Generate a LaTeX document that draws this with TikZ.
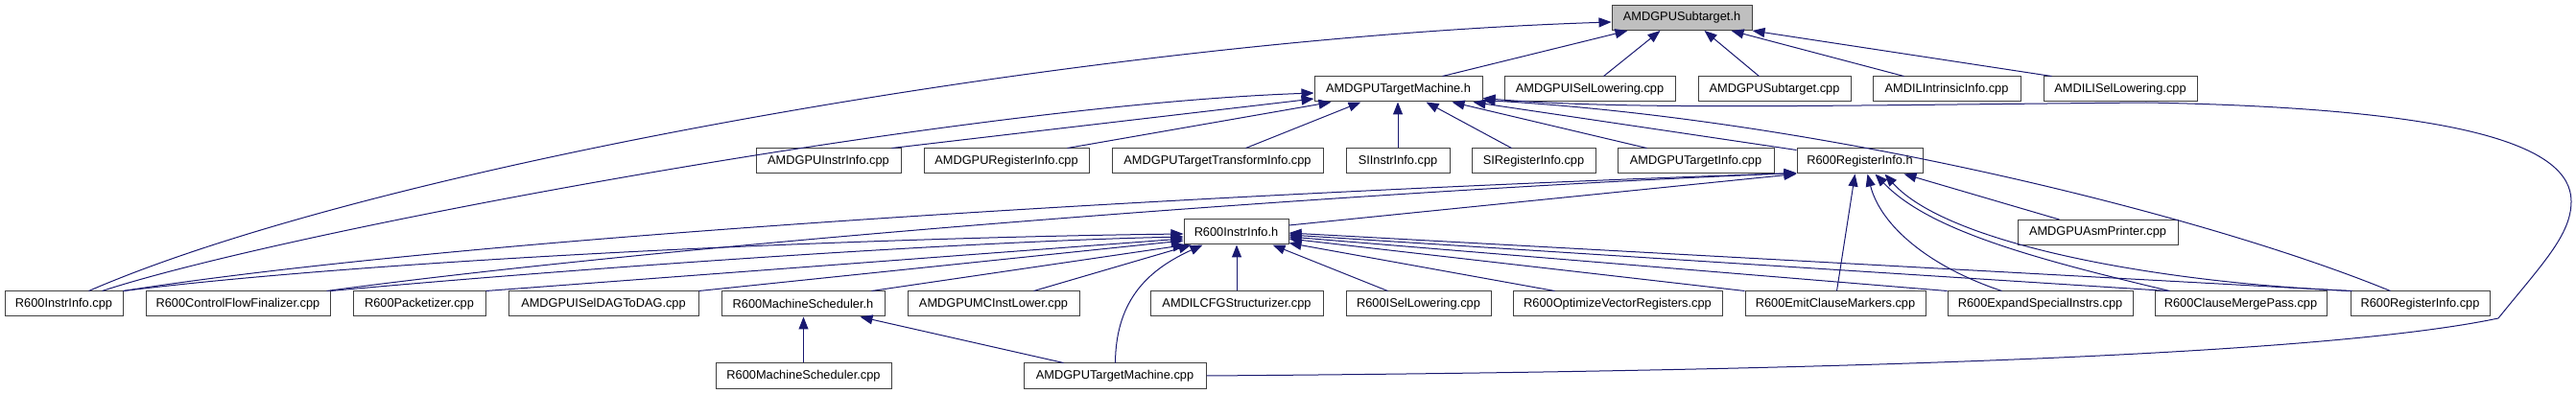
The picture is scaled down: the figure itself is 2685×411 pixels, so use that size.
\documentclass[tikz,border=0pt]{standalone}
\usepackage{fontspec}
\setmainfont{Liberation Sans}
\usetikzlibrary{arrows.meta,calc}
\definecolor{edgeblue}{HTML}{191970}
\definecolor{rootgray}{HTML}{BFBFBF}
\begin{document}
\begin{tikzpicture}[x=1pt,y=-1pt,
  box/.style={draw=black!75, line width=1pt, fill=white, rectangle, minimum height=26pt, inner sep=0pt, font=\fontsize{12.8}{14}\selectfont},
  rootbox/.style={box, fill=rootgray},
  dep/.style={draw=edgeblue, line width=1pt, -{Triangle[length=13pt,width=10pt]}}]
\useasboundingbox (0,0) rectangle (2685,411);
% row 1
\node[rootbox, minimum width=146pt] (sub) at (1753,18.5) {AMDGPUSubtarget.h};
% row 2
\node[box, minimum width=175pt] (tmh) at (1457.5,93) {AMDGPUTargetMachine.h};
\node[box, minimum width=178pt] (isel) at (1657,93) {AMDGPUISelLowering.cpp};
\node[box, minimum width=159pt] (subcpp) at (1849.5,93) {AMDGPUSubtarget.cpp};
\node[box, minimum width=154pt] (intr) at (2029,93) {AMDILIntrinsicInfo.cpp};
\node[box, minimum width=160pt] (ilisel) at (2210,93) {AMDILISelLowering.cpp};
% row 3
\node[box, minimum width=151pt] (ainstr) at (863.5,168) {AMDGPUInstrInfo.cpp};
\node[box, minimum width=172pt] (areg) at (1049,168) {AMDGPURegisterInfo.cpp};
\node[box, minimum width=220pt] (atti) at (1269,168) {AMDGPUTargetTransformInfo.cpp};
\node[box, minimum width=108pt] (siinstr) at (1457,168) {SIInstrInfo.cpp};
\node[box, minimum width=129pt] (sireg) at (1598.5,168) {SIRegisterInfo.cpp};
\node[box, minimum width=163pt] (atinfo) at (1767.5,168) {AMDGPUTargetInfo.cpp};
\node[box, minimum width=131pt] (r6regh) at (1938.5,168) {R600RegisterInfo.h};
% row 4
\node[box, minimum width=109pt] (r6instrh) at (1288.5,242) {R600InstrInfo.h};
\node[box, minimum width=167pt] (asmp) at (2186.5,242.5) {AMDGPUAsmPrinter.cpp};
% row 5
\node[box, minimum width=123pt] (r6instrcpp) at (66.5,317) {R600InstrInfo.cpp};
\node[box, minimum width=192pt] (cff) at (248,317) {R600ControlFlowFinalizer.cpp};
\node[box, minimum width=138pt] (pack) at (437,317) {R600Packetizer.cpp};
\node[box, minimum width=198pt] (dag) at (629,317) {AMDGPUISelDAGToDAG.cpp};
\node[box, minimum width=170pt] (msh) at (837,317) {R600MachineScheduler.h};
\node[box, minimum width=179pt] (mcil) at (1035.5,317) {AMDGPUMCInstLower.cpp};
\node[box, minimum width=180pt] (cfgs) at (1289,317) {AMDILCFGStructurizer.cpp};
\node[box, minimum width=151pt] (r6isel) at (1478.5,317) {R600ISelLowering.cpp};
\node[box, minimum width=218pt] (opt) at (1686,317) {R600OptimizeVectorRegisters.cpp};
\node[box, minimum width=188pt] (emit) at (1913,317) {R600EmitClauseMarkers.cpp};
\node[box, minimum width=193pt] (expand) at (2126.5,317) {R600ExpandSpecialInstrs.cpp};
\node[box, minimum width=179pt] (merge) at (2335.5,317) {R600ClauseMergePass.cpp};
\node[box, minimum width=145pt] (r6regcpp) at (2522.5,317) {R600RegisterInfo.cpp};
% row 6
\node[box, minimum width=183pt] (mscpp) at (837.5,392) {R600MachineScheduler.cpp};
\node[box, minimum width=190pt] (atmcpp) at (1162,392) {AMDGPUTargetMachine.cpp};

% edges to AMDGPUSubtarget.h
\draw[dep] ($(r6instrcpp.north west)+(88,0)$) .. controls (400,170) and (1150,40) .. ($(sub.west)+(0,4.5)$);
\draw[dep] ($(tmh.north west)+(134,0)$) -- ($(sub.south west)+(17,0)$);
\draw[dep] ($(isel.north west)+(104,0)$) -- ($(sub.south west)+(51,0)$);
\draw[dep] ($(subcpp.north west)+(64,0)$) -- ($(sub.south west)+(97,0)$);
\draw[dep] ($(intr.north west)+(33,0)$) -- ($(sub.south west)+(125,0)$);
\draw[dep] ($(ilisel.north west)+(9,0)$) -- (sub.south east);

% edges to AMDGPUTargetMachine.h
\draw[dep] ($(r6instrcpp.north west)+(102,0)$) .. controls (300,240) and (1000,110) .. ($(tmh.west)+(0,4)$);
\draw[dep] ($(ainstr.north west)+(142,0)$) -- ($(tmh.west)+(0,10)$);
\draw[dep] ($(areg.north west)+(150,0)$) -- ($(tmh.south west)+(18,0)$);
\draw[dep] ($(atti.north west)+(140,0)$) -- ($(tmh.south west)+(49,0)$);
\draw[dep] (siinstr.north) -- (siinstr.north |- tmh.south);
\draw[dep] ($(sireg.north west)+(42,0)$) -- ($(tmh.south west)+(117,0)$);
\draw[dep] ($(atinfo.north west)+(31,0)$) -- ($(tmh.south west)+(144,0)$);
\draw[dep] ($(r6regh.north west)+(0,2)$) -- ($(tmh.south west)+(166,0)$);
\draw[dep] ($(r6regcpp.north west)+(42,0)$) .. controls (2300,225) and (1900,125) .. ($(tmh.south east)+(0,-2)$);
\draw[dep] (atmcpp.east) .. controls (1800,388) and (2400,375) .. (2604,332)
  .. controls (2650,275) and (2680,245) .. (2680,210)
  .. controls (2680,150) and (2560,113) .. (2237,107)
  .. controls (1900,110) and (1700,115) .. ($(tmh.south east)+(0,-4)$);

% edges to R600InstrInfo.h
\draw[dep] (r6instrcpp.north east) .. controls (400,270) and (900,248) .. ($(r6instrh.west)+(0,2)$);
\draw[dep] (cff.north east) .. controls (600,280) and (1000,252) .. ($(r6instrh.west)+(0,5)$);
\draw[dep] (pack.north east) -- ($(r6instrh.west)+(0,7)$);
\draw[dep] (dag.north east) -- ($(r6instrh.west)+(0,9)$);
\draw[dep] ($(msh.north west)+(157,0)$) -- ($(r6instrh.south west)+(2,0)$);
\draw[dep] ($(mcil.north west)+(132,0)$) -- ($(r6instrh.south west)+(8,0)$);
\draw[dep] ($(atmcpp.north west)+(96,0)$) .. controls (1163,310) and (1200,280) .. ($(r6instrh.south west)+(20,0)$);
\draw[dep] (cfgs.north) -- (cfgs.north |- r6instrh.south);
\draw[dep] ($(r6isel.north west)+(44,0)$) -- ($(r6instrh.south west)+(93,0)$);
\draw[dep] ($(opt.north west)+(44,0)$) -- ($(r6instrh.south east)+(0,-2)$);
\draw[dep] (emit.north west) -- ($(r6instrh.east)+(0,7)$);
\draw[dep] (expand.north west) -- ($(r6instrh.east)+(0,5)$);
\draw[dep] ($(merge.north west)+(14,0)$) -- ($(r6instrh.east)+(0,3)$);
\draw[dep] (r6regcpp.north west) -- ($(r6instrh.east)+(0,1)$);

% edges to R600RegisterInfo.h
\draw[dep] (r6instrcpp.north east) .. controls (500,245) and (1300,200) .. ($(r6regh.south west)+(0,-1)$);
\draw[dep] ($(cff.north east)+(-4,0)$) .. controls (700,255) and (1400,200) .. ($(r6regh.south west)+(0,-1)$);
\draw[dep] ($(r6instrh.east)+(0,-7)$) -- (r6regh.south west);
\draw[dep] ($(asmp.north west)+(44,0)$) -- ($(r6regh.south west)+(112,0)$);
\draw[dep] ($(emit.north west)+(96,0)$) -- ($(r6regh.south west)+(61,0)$);
\draw[dep] ($(expand.north west)+(57,0)$) .. controls (2010,278) and (1960,235) .. ($(r6regh.south west)+(74,0)$);
\draw[dep] ($(merge.north west)+(16,0)$) .. controls (2120,270) and (2010,240) .. ($(r6regh.south west)+(82,0)$);
\draw[dep] ($(r6regcpp.north west)+(2,0)$) .. controls (2250,295) and (2030,255) .. ($(r6regh.south west)+(92,0)$);

% edges to R600MachineScheduler.h
\draw[dep] (mscpp.north) -- (mscpp.north |- msh.south);
\draw[dep] ($(atmcpp.north west)+(42,0)$) -- ($(msh.south east)+(-26,0)$);
\end{tikzpicture}
\end{document}
